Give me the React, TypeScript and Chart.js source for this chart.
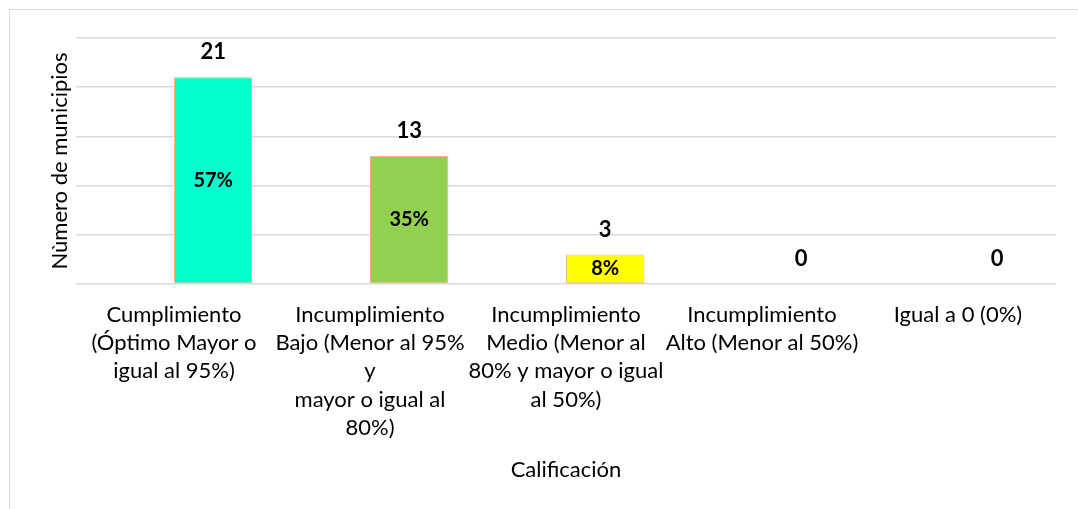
import React, { useEffect, useRef } from "react";
import { Chart, registerables } from "chart.js";

Chart.register(...registerables);

const FONT = "Lato, 'Open Sans', sans-serif";

const categories: string[][] = [
  ["Cumplimiento", "(Óptimo Mayor o", "igual al 95%)"],
  ["Incumplimiento", "Bajo (Menor al 95%", "y", "mayor o igual al", "80%)"],
  ["Incumplimiento", "Medio (Menor al", "80% y mayor o igual", "al 50%)"],
  ["Incumplimiento", "Alto (Menor al 50%)"],
  ["Igual a 0 (0%)"],
];
const counts = [21, 13, 3, 0, 0];
const percents = ["57%", "35%", "8%", "", ""];
const placeholderSeries: (number | null)[] = [null, null, null, null, null];
const barColors = ["#00FFCC", "#92D050", "#FFFF00", "#A5A5A5", "#A5A5A5"];
const barBorderWidths = [1, 1, 1, 0, 0];
const yMin = 0;
const yMax = 25;
const yStep = 5;
const yTitle = "Nùmero de municipios";
const xTitle = "Calificación";

const labelPlugin = {
  id: "valueLabels",
  afterDatasetsDraw(chart: any) {
    const ctx = chart.ctx;
    const meta = chart.getDatasetMeta(1);
    meta.data.forEach((bar: any, i: number) => {
      const { x, y, base } = bar.getProps(["x", "y", "base"], true);
      ctx.save();
      ctx.fillStyle = "#000";
      ctx.font = `bold 22px ${FONT}`;
      ctx.textAlign = "center";
      ctx.textBaseline = "middle";
      ctx.fillText(String(counts[i]), x, y - 25);
      if (percents[i]) {
        ctx.font = `bold 20px ${FONT}`;
        ctx.fillText(percents[i], x, (y + base) / 2);
      }
      ctx.restore();
    });
  },
};

export default function App() {
  const canvasRef = useRef<HTMLCanvasElement | null>(null);

  useEffect(() => {
    document.body.style.margin = "0";
    const canvas = canvasRef.current;
    if (!canvas) return;
    const chart = new Chart(canvas, {
      type: "bar",
      data: {
        labels: categories,
        datasets: [
          {
            label: "",
            data: placeholderSeries as any,
            backgroundColor: "rgba(0,0,0,0)",
          },
          {
            label: yTitle,
            data: counts,
            backgroundColor: barColors,
            borderColor: "#F4B183",
            borderWidth: barBorderWidths,
            borderSkipped: false,
          },
        ],
      },
      options: {
        responsive: false,
        animation: false,
        layout: { padding: { top: 38, right: 22, bottom: 0, left: 0 } },
        datasets: {
          bar: { categoryPercentage: 0.8, barPercentage: 1 },
        },
        plugins: {
          legend: { display: false },
          tooltip: { enabled: false },
        },
        scales: {
          x: {
            grid: { display: false, drawTicks: false },
            border: { display: false },
            ticks: {
              color: "#000",
              padding: 17,
              maxRotation: 0,
              autoSkip: false,
              font: { family: FONT, size: 22, lineHeight: 1.28 },
            },
            title: {
              display: true,
              text: xTitle,
              color: "#000",
              font: { family: FONT, size: 22, lineHeight: 1.2 },
              padding: { top: 0, bottom: 26 },
            },
            afterFit: (scale: any) => {
              scale.height = 225;
            },
          },
          y: {
            min: yMin,
            max: yMax,
            ticks: { stepSize: yStep, display: false },
            grid: { color: "#D9D9D9", lineWidth: 1.5, drawTicks: false },
            border: { display: false },
            title: {
              display: true,
              text: yTitle,
              color: "#000",
              font: { family: FONT, size: 22, lineHeight: 1.2 },
              padding: { top: 47, bottom: 0 },
            },
            afterFit: (scale: any) => {
              scale.width = 76;
            },
          },
        },
      },
      plugins: [labelPlugin],
    });
    return () => chart.destroy();
  }, []);

  return (
    <div style={{ position: "relative", width: 1078, height: 509, overflow: "hidden", background: "#fff" }}>
      <div
        style={{
          position: "absolute",
          left: 9,
          top: 9,
          width: 1200,
          height: 600,
          borderLeft: "1px solid #D9D9D9",
          borderTop: "1px solid #D9D9D9",
        }}
      />
      <canvas ref={canvasRef} width={1078} height={509} style={{ position: "absolute", left: 0, top: 0, display: "block" }} />
    </div>
  );
}
